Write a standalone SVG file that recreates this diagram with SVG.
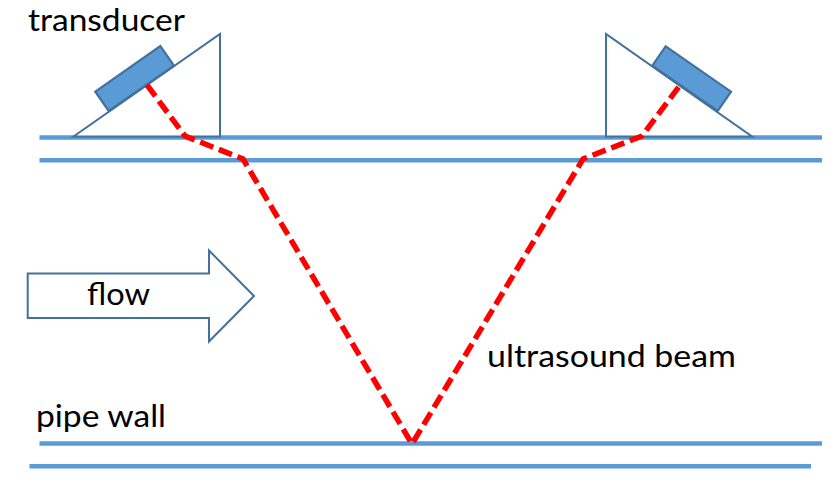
<svg xmlns="http://www.w3.org/2000/svg" width="835" height="484" viewBox="0 0 835 484">
<style>
.pipe{stroke:#5b9bd5;stroke-width:4.5;fill:none}
.outline{stroke:#41719c;stroke-width:2;fill:#fff;stroke-linejoin:miter}
.probe{stroke:#41719c;stroke-width:2.2;fill:#5b9bd5}
.beam{stroke:#f00;stroke-width:5.5;fill:none;stroke-dasharray:14 6;stroke-linejoin:miter}
text{font-family:"Lato","Open Sans","Liberation Sans",sans-serif;font-size:31px;fill:#000}
</style>
<rect width="835" height="484" fill="#fff"/>
<g id="pipe-walls">
<line class="pipe" x1="39.5" y1="137.5" x2="822" y2="137.5"/>
<line class="pipe" x1="39.5" y1="160.3" x2="822" y2="160.3"/>
<line class="pipe" x1="39.5" y1="443.4" x2="822" y2="443.4"/>
<line class="pipe" x1="29.5" y1="466.3" x2="811" y2="466.3"/>
</g>
<g id="wedge-left"><polygon class="outline" points="73.5,136.5 220,34 220,136.5"/></g>
<g id="transducer-left"><polygon class="probe" points="95.3,91.7 160.3,46 174,65.7 108.7,111"/></g>
<g id="wedge-right"><polygon class="outline" points="606,34 606,136.5 752,136.5"/></g>
<g id="transducer-right"><polygon class="probe" points="665.7,46.3 731,91.7 717.7,111 652.3,65.7"/></g>
<g id="flow-arrow"><polygon class="outline" points="27.7,273.5 209,273.5 209,250.5 254,296 209,341.5 209,318 27.7,318"/></g>
<g id="connectors">
<polyline class="beam" points="147,85 185,136 243,159 412,444 583,159 642,136 681,84"/>
</g>
<g id="labels">
<text id="label-transducer" x="28" y="30.7" textLength="157" lengthAdjust="spacingAndGlyphs">transducer</text>
<text id="label-flow" x="87" y="305" textLength="63" lengthAdjust="spacingAndGlyphs">flow</text>
<text id="label-beam" x="487" y="367" textLength="249" lengthAdjust="spacingAndGlyphs">ultrasound beam</text>
<text id="label-pipe" x="36" y="427" textLength="130" lengthAdjust="spacingAndGlyphs">pipe wall</text>
</g>
</svg>
